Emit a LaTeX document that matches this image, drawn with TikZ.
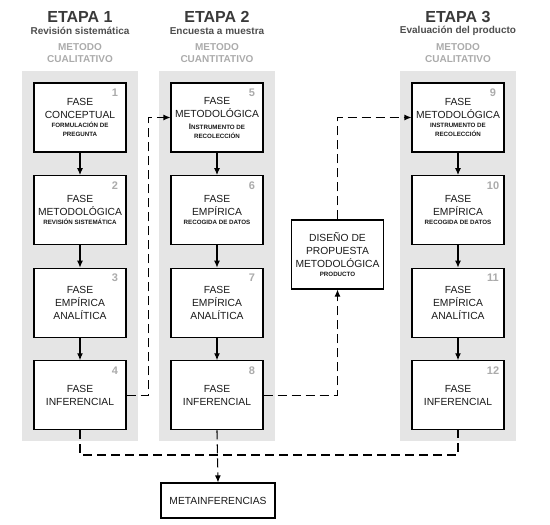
\documentclass[tikz,border=0pt]{standalone}
\usepackage{fontspec}
\setmainfont{Liberation Sans}
\usetikzlibrary{arrows.meta,calc,positioning,backgrounds}

\definecolor{colbg}{HTML}{E5E5E5}
\definecolor{numgray}{HTML}{ABABAB}
\definecolor{titlegray}{HTML}{3A3A3A}

\newcommand{\subtxt}[1]{{\fontsize{6.2}{7}\selectfont\bfseries #1}}

\tikzset{
  fase/.style={draw=black, line width=1.1pt, fill=white, minimum width=92pt,
    minimum height=69pt, inner sep=0pt, align=center,
    font=\fontsize{10.3}{13}\selectfont, text=black!90},
  num/.style={font=\fontsize{11}{11}\selectfont\bfseries, text=numgray, inner sep=0pt},
  etapa/.style={font=\fontsize{16}{18}\selectfont\bfseries, text=titlegray},
  subt/.style={font=\fontsize{10}{12}\selectfont\bfseries, text=titlegray!90},
  metodo/.style={font=\fontsize{10}{12}\selectfont\bfseries, text=numgray, align=center},
  flow/.style={-{Latex[length=7pt,width=6pt]}, line width=1.1pt},
  dflow/.style={line width=1.1pt, dash pattern=on 9pt off 5pt},
  node distance=22.5pt
}

\begin{document}
\begin{tikzpicture}[x=1pt,y=-1pt]
  \path[use as bounding box] (0,0) rectangle (550,525);

  % Etapa 1
  \node[etapa] (e1) at (80,17) {ETAPA 1};
  \node[subt] (s1) at (80,31) {Revisión sistemática};
  \node[metodo] (m1) at (80,53) {METODO\\CUALITATIVO};
  \node[fase] (b1) at (80,117.5) {FASE\\CONCEPTUAL\\[-4pt]\subtxt{FORMULACIÓN DE}\\[-4pt]\subtxt{PREGUNTA}};
  \node[fase, below=of b1] (b2) {FASE\\METODOLÓGICA\\[-4pt]\subtxt{REVISIÓN SISTEMÁTICA}};
  \node[fase, below=of b2] (b3) {FASE\\EMPÍRICA\\ANALÍTICA};
  \node[fase, below=of b3] (b4) {FASE\\INFERENCIAL};

  % Etapa 2
  \node[etapa] (e2) at (217,17) {ETAPA 2};
  \node[subt] (s2) at (217,31) {Encuesta a muestra};
  \node[metodo] (m2) at (217,53) {METODO\\CUANTITATIVO};
  \node[fase] (b5) at (217,117.5) {FASE\\METODOLÓGICA\\[-1pt]\subtxt{{\fontsize{8}{8}\selectfont I}NSTRUMENTO DE}\\[-4pt]\subtxt{RECOLECCIÓN}};
  \node[fase, below=of b5] (b6) {FASE\\EMPÍRICA\\[-4pt]\subtxt{RECOGIDA DE DATOS}};
  \node[fase, below=of b6] (b7) {FASE\\EMPÍRICA\\ANALÍTICA};
  \node[fase, below=of b7] (b8) {FASE\\INFERENCIAL};

  % Producto
  \node[fase] (d) at (337.5,254.5) {DISEÑO DE\\PROPUESTA\\METODOLÓGICA\\[-4pt]\subtxt{PRODUCTO}};

  % Etapa 3
  \node[etapa] (e3) at (458,17) {ETAPA 3};
  \node[subt] (s3) at (458,31) {Evaluación del producto};
  \node[metodo] (m3) at (458,53) {METODO\\CUALITATIVO};
  \node[fase] (b9) at (458,117.5) {FASE\\METODOLÓGICA\\[-4pt]\subtxt{INSTRUMENTO DE}\\[-4pt]\subtxt{RECOLECCIÓN}};
  \node[fase, below=of b9] (b10) {FASE\\EMPÍRICA\\[-4pt]\subtxt{RECOGIDA DE DATOS}};
  \node[fase, below=of b10] (b11) {FASE\\EMPÍRICA\\ANALÍTICA};
  \node[fase, below=of b11] (b12) {FASE\\INFERENCIAL};

  \node[fase, minimum width=114pt, minimum height=35pt] (meta) at (218,500.5) {METAINFERENCIAS};

  % numbers
  \foreach \b/\n in {b1/1,b2/2,b3/3,b4/4,b5/5,b6/6,b7/7,b8/8,b9/9,b10/10,b11/11,b12/12}
    \node[num] at ($(\b.north east)+(-11.5,10.5)$) {\n};

  % gray columns
  \begin{scope}[on background layer]
    \foreach \t/\u in {b1/b4,b5/b8,b9/b12}
      \fill[colbg] ($(\t.north west)+(-11,-11)$) rectangle ($(\u.south east)+(11,11)$);
  \end{scope}

  % solid flow
  \foreach \a/\c in {b1/b2,b2/b3,b3/b4,b5/b6,b6/b7,b7/b8,b9/b10,b10/b11,b11/b12}
    \draw[flow] (\a) -- (\c);

  % dashed flow
  \draw[dflow, flow] (b4.east) -| ($(b4.east)!.5!(b8.west)$) |- (b5.west);
  \draw[dflow, flow] (b8.east) -| (d.south);
  \draw[dflow, flow] (d.north) |- (b9.west);
  \coordinate (bus) at (b8.south |- 0,455);
  \draw[dflow] (b4.south) |- (bus) -| (b12.south);
  \draw[dflow, flow] (b8.south) -- (meta.north);
\end{tikzpicture}
\end{document}
